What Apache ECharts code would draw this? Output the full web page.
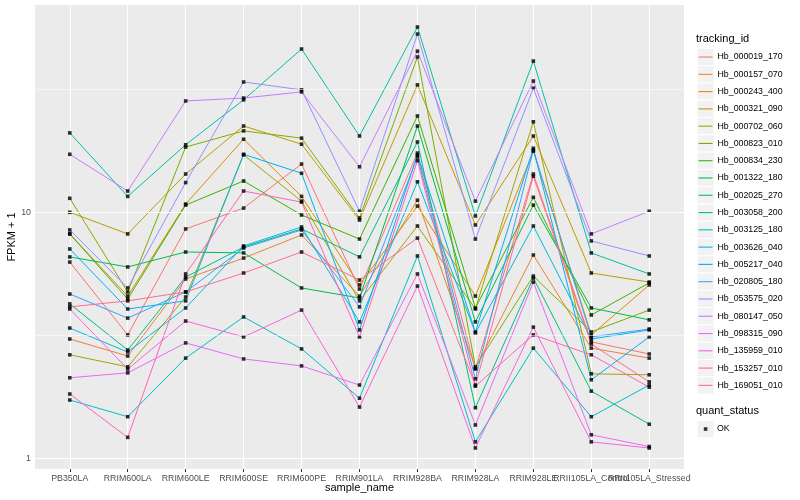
<!DOCTYPE html>
<html>
<head>
<meta charset="utf-8">
<script src="https://cdn.jsdelivr.net/npm/echarts@6/dist/echarts.min.js"></script>
<style>html,body{margin:0;padding:0;background:#fff}#chart{width:800px;height:500px}</style>
</head>
<body>
<div id="chart"></div>
<script>
// ---- data ----
const categories = ['PB350LA','RRIM600LA','RRIM600LE','RRIM600SE','RRIM600PE','RRIM901LA','RRIM928BA','RRIM928LA','RRIM928LE','RRII105LA_Control','RRII105LA_Stressed'];
const trackingIds = ['Hb_000019_170','Hb_000157_070','Hb_000243_400','Hb_000321_090','Hb_000702_060','Hb_000823_010','Hb_000834_230','Hb_001322_180','Hb_002025_270','Hb_003058_200','Hb_003125_180','Hb_003626_040','Hb_005217_040','Hb_020805_180','Hb_053575_020','Hb_080147_050','Hb_098315_090','Hb_135959_010','Hb_153257_010','Hb_169051_010'];
const hb_000019_170 = [6.28, 3.18, 8.56, 10.4, 15.7, 4.88, 17.4, 2.31, 14.3, 2.98, 2.66];
const hb_000157_070 = [3.06, 2.61, 5.36, 6.52, 8.09, 4.57, 11.2, 2.33, 6.71, 2.81, 2.56];
const hb_000243_400 = [8.17, 4.57, 10.8, 19.8, 11.6, 5.07, 10.6, 4.57, 17.7, 3.18, 5.07];
const hb_000321_090 = [10.0, 8.17, 14.3, 22.4, 18.9, 9.30, 32.9, 8.88, 20.4, 5.67, 5.21];
const hb_000702_060 = [2.64, 2.36, 4.53, 17.1, 11.1, 4.37, 8.80, 4.05, 23.3, 2.21, 2.19];
const hb_000823_010 = [11.4, 4.75, 18.4, 21.4, 20.0, 9.48, 42.7, 2.36, 5.51, 3.27, 4.01];
const hb_000834_230 = [8.17, 4.45, 10.7, 13.4, 9.75, 7.79, 24.6, 4.09, 11.5, 3.83, 5.17];
const hb_001322_180 = [6.59, 6.00, 6.90, 6.84, 4.93, 4.49, 22.4, 3.59, 10.7, 4.09, 3.66];
const hb_002025_270 = [4.25, 2.76, 5.46, 7.23, 8.56, 6.59, 19.3, 1.61, 5.41, 1.88, 1.38];
const hb_003058_200 = [21.0, 11.6, 18.8, 28.6, 46.0, 20.4, 56.5, 9.66, 41.1, 6.84, 5.62];
const hb_003125_180 = [1.73, 1.48, 2.56, 3.76, 2.79, 1.76, 6.65, 1.17, 2.81, 1.48, 1.99];
const hb_003626_040 = [3.39, 2.71, 4.09, 7.30, 8.72, 3.59, 13.3, 3.24, 8.80, 3.06, 3.33];
const hb_005217_040 = [7.10, 4.05, 4.37, 17.2, 14.4, 3.33, 17.1, 3.27, 18.2, 2.09, 3.12];
const hb_020805_180 = [4.66, 3.72, 4.75, 7.16, 8.48, 4.13, 16.8, 2.11, 17.9, 3.12, 3.36];
const hb_053575_020 = [8.48, 4.93, 13.2, 33.8, 31.4, 10.1, 52.9, 7.79, 31.9, 7.65, 6.65];
const hb_080147_050 = [17.2, 12.2, 28.3, 29.1, 30.8, 15.3, 45.1, 11.1, 34.1, 8.17, 10.1];
const hb_098315_090 = [2.13, 2.23, 2.95, 2.54, 2.38, 1.99, 5.62, 1.37, 5.21, 1.25, 1.12];
const hb_135959_010 = [4.05, 2.31, 3.62, 3.12, 4.01, 1.62, 5.02, 1.105, 3.42, 1.17, 1.105];
const hb_153257_010 = [1.83, 1.22, 5.62, 12.2, 11.0, 3.12, 16.2, 1.97, 3.18, 2.64, 1.95];
const hb_169051_010 = [4.13, 4.37, 4.75, 5.67, 6.90, 5.31, 7.86, 1.99, 14.0, 2.92, 2.05];
const quantStatus = ['OK'];
const yMajorBreaks = [1, 10];
const yMinorBreaks = [Math.sqrt(10), Math.sqrt(1000)];

const seriesValues = [hb_000019_170, hb_000157_070, hb_000243_400, hb_000321_090, hb_000702_060, hb_000823_010, hb_000834_230, hb_001322_180, hb_002025_270, hb_003058_200, hb_003125_180, hb_003626_040, hb_005217_040, hb_020805_180, hb_053575_020, hb_080147_050, hb_098315_090, hb_135959_010, hb_153257_010, hb_169051_010];

// ---- styles ----
const colors = ['#F8766D','#EA8331','#D89000','#C09B00','#A3A500','#7CAE00','#39B600','#00BB4E','#00BF7D','#00C1A3','#00BFC4','#00BAE0','#00B0F6','#35A2FF','#9590FF','#C77CFF','#E76BF3','#FA62DB','#FF62BC','#FF6C91'];
const FONT = '"Liberation Sans", Arial, Helvetica, sans-serif';
const yMin = 0.908, yMax = 69.4;
const legendLeft = 697, legendTop = 48.4, rowH = 17.28;

const catIdx = categories.map((c, i) => i);
const labelIdxMain = catIdx.filter(i => i !== 9);
const labelIdxAlt = [9];

const series = [];
// horizontal gridlines (major + minor breaks), drawn under the data lines
series.push({
  name: '__grid',
  type: 'line',
  xAxisIndex: 0,
  data: catIdx.map(i => [i, seriesValues[0][i]]),
  showSymbol: false,
  symbol: 'none',
  lineStyle: { opacity: 0, width: 0 },
  silent: true,
  z: 1,
  markLine: {
    silent: true,
    animation: false,
    symbol: ['none', 'none'],
    label: { show: false },
    data: yMajorBreaks.map(v => ({ yAxis: v, lineStyle: { color: '#fff', width: 1.1, type: 'solid' } }))
      .concat(yMinorBreaks.map(v => ({ yAxis: v, lineStyle: { color: '#fff', width: 0.55, type: 'solid' } })))
  }
});
trackingIds.forEach((id, k) => series.push({
  name: id,
  type: 'line',
  xAxisIndex: 0,
  data: catIdx.map(i => [i, seriesValues[k][i]]),
  showSymbol: false,
  symbol: 'none',
  lineStyle: { width: 1, color: colors[k] },
  itemStyle: { color: colors[k] },
  z: 3,
  silent: true
}));
const okPoints = [];
seriesValues.forEach(vals => catIdx.forEach(i => okPoints.push([i, vals[i]])));
series.push({
  name: quantStatus[0],
  type: 'scatter',
  xAxisIndex: 0,
  data: okPoints,
  symbol: 'rect',
  symbolSize: 3.6,
  itemStyle: { color: '#000' },
  z: 4,
  silent: true
});

const keyRects = trackingIds.map((id, k) => ({
  type: 'rect',
  shape: { x: legendLeft, y: legendTop + k * rowH, width: rowH, height: rowH },
  style: { fill: '#F2F2F2', stroke: '#fff', lineWidth: 1 },
  z: -1
}));
keyRects.push({
  type: 'rect',
  shape: { x: legendLeft, y: 420.4, width: rowH, height: rowH },
  style: { fill: '#F2F2F2', stroke: '#fff', lineWidth: 1 },
  z: -1
});

const isPow10 = v => Math.abs(Math.log10(v) - Math.round(Math.log10(v))) < 1e-6;
const tickLabelStyle = { fontFamily: FONT, fontSize: 8.8, color: '#4D4D4D' };

const option = {
  animation: false,
  backgroundColor: '#fff',
  textStyle: { fontFamily: FONT },
  title: [
    { text: 'tracking_id', left: 696, top: 33, padding: 0, textStyle: { fontFamily: FONT, fontSize: 11, fontWeight: 'normal', color: '#000' } },
    { text: 'quant_status', left: 696, top: 405, padding: 0, textStyle: { fontFamily: FONT, fontSize: 11, fontWeight: 'normal', color: '#000' } }
  ],
  grid: { left: 35, right: 116, top: 5, bottom: 31, show: true, backgroundColor: '#EBEBEB', borderWidth: 0, containLabel: false, outerBoundsMode: 'none' },
  xAxis: [
    {
      type: 'value',
      min: -0.6, max: 10.6,
      name: 'sample_name', nameLocation: 'middle', nameGap: 13.5, nameMoveOverlap: false,
      nameTextStyle: { fontFamily: FONT, fontSize: 11, color: '#000' },
      axisLine: { show: false },
      axisTick: { show: true, length: 3, lineStyle: { color: '#333', width: 1 }, customValues: catIdx },
      axisLabel: Object.assign({ customValues: labelIdxMain, showMinLabel: true, showMaxLabel: true, hideOverlap: false, margin: 5, formatter: v => categories[Math.round(v)] }, tickLabelStyle),
      splitLine: { show: true, lineStyle: { color: '#fff', width: 1.1 } }
    },
    {
      type: 'value',
      position: 'bottom',
      min: -0.6, max: 10.6,
      axisLine: { show: false },
      axisTick: { show: false, customValues: labelIdxAlt },
      axisLabel: Object.assign({ customValues: labelIdxAlt, showMinLabel: true, showMaxLabel: true, hideOverlap: false, margin: 5, formatter: v => categories[Math.round(v)] }, tickLabelStyle),
      splitLine: { show: false }
    }
  ],
  yAxis: {
    type: 'log', logBase: 10,
    min: yMin, max: yMax,
    name: 'FPKM + 1', nameLocation: 'middle', nameGap: 17.5, nameRotate: 90, nameMoveOverlap: false,
    nameTextStyle: { fontFamily: FONT, fontSize: 11, color: '#000' },
    axisLine: { show: false },
    axisTick: { show: true, length: 3, lineStyle: { color: '#333', width: 1 }, customValues: yMajorBreaks },
    axisLabel: Object.assign({ customValues: yMajorBreaks, margin: 4, formatter: v => (isPow10(v) ? String(Math.round(v)) : '') }, tickLabelStyle),
    splitLine: { show: false }
  },
  legend: [
    {
      data: trackingIds,
      orient: 'vertical',
      left: legendLeft + 1.5, top: legendTop,
      padding: 0, itemGap: 0,
      itemWidth: 14, itemHeight: 1.1,
      icon: 'rect',
      selectedMode: false,
      textStyle: { fontFamily: FONT, fontSize: 8.8, color: '#000', lineHeight: rowH }
    },
    {
      data: quantStatus,
      orient: 'vertical',
      left: 703.8, top: 420.4,
      padding: 0, itemGap: 0,
      itemWidth: 3.6, itemHeight: 3.6,
      icon: 'rect',
      selectedMode: false,
      textStyle: { fontFamily: FONT, fontSize: 8.8, color: '#000', lineHeight: rowH, padding: [0, 0, 0, 4.6] }
    }
  ],
  graphic: keyRects,
  series: series
};

const chart = echarts.init(document.getElementById('chart'), null, { renderer: 'canvas' });
chart.setOption(option);
</script>
</body>
</html>
